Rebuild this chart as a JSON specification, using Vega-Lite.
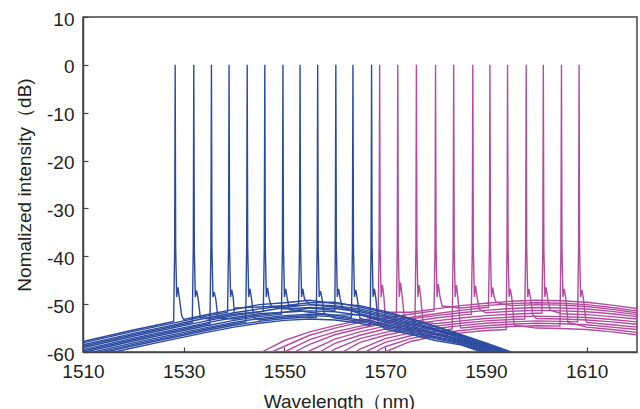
{
"$schema": "https://vega.github.io/schema/vega-lite/v6.json",
"width": 554, "height": 335,
"autosize": {"type": "none"},
"padding": {"left": 83, "top": 17, "right": 3, "bottom": 57},
"background": "white",
"config": {"view": {"stroke": "#444", "strokeWidth": 1.5}, "font": "Liberation Sans"},
"datasets": {
"blue": [
{"s":"b0","x":1510,"y":-57.8},{"s":"b0","x":1515,"y":-56.6},{"s":"b0","x":1520,"y":-55.4},{"s":"b0","x":1525,"y":-54.3},{"s":"b0","x":1528.0,"y":-53.6},{"s":"b0","x":1528.2,"y":-38},{"s":"b0","x":1528.3,"y":0},{"s":"b0","x":1528.4,"y":-38},{"s":"b0","x":1528.6,"y":-48.5},{"s":"b0","x":1528.85,"y":-46.5},{"s":"b0","x":1529.15,"y":-48.8},{"s":"b0","x":1529.6,"y":-52.5},{"s":"b0","x":1530,"y":-53.2},{"s":"b0","x":1535,"y":-52.1},{"s":"b0","x":1540,"y":-51.1},{"s":"b0","x":1545,"y":-50.1},{"s":"b0","x":1550,"y":-49.7},{"s":"b0","x":1555,"y":-49.2},{"s":"b0","x":1560,"y":-49.9},{"s":"b0","x":1565,"y":-50.3},{"s":"b0","x":1570,"y":-51.5},{"s":"b0","x":1575,"y":-53.0},{"s":"b0","x":1580,"y":-54.6},{"s":"b0","x":1585,"y":-56.3},{"s":"b0","x":1590,"y":-58.1},{"s":"b0","x":1595,"y":-60.0},{"s":"b0","x":1600,"y":-62.0},
{"s":"b1","x":1510,"y":-58.1},{"s":"b1","x":1515,"y":-56.9},{"s":"b1","x":1520,"y":-55.7},{"s":"b1","x":1525,"y":-54.6},{"s":"b1","x":1530,"y":-53.5},{"s":"b1","x":1535,"y":-52.4},{"s":"b1","x":1538.7,"y":-51.7},{"s":"b1","x":1538.9,"y":-38},{"s":"b1","x":1539.0,"y":0},{"s":"b1","x":1539.1,"y":-38},{"s":"b1","x":1539.3,"y":-48.5},{"s":"b1","x":1539.55,"y":-47.0},{"s":"b1","x":1539.85,"y":-48.8},{"s":"b1","x":1540,"y":-51.4},{"s":"b1","x":1540.3,"y":-50.8},{"s":"b1","x":1545,"y":-50.6},{"s":"b1","x":1550,"y":-50.3},{"s":"b1","x":1555,"y":-49.7},{"s":"b1","x":1560,"y":-49.6},{"s":"b1","x":1565,"y":-50.6},{"s":"b1","x":1570,"y":-51.8},{"s":"b1","x":1575,"y":-53.3},{"s":"b1","x":1580,"y":-54.8},{"s":"b1","x":1585,"y":-56.5},{"s":"b1","x":1590,"y":-58.3},{"s":"b1","x":1595,"y":-60.2},{"s":"b1","x":1600,"y":-62.2},
{"s":"b2","x":1510,"y":-58.5},{"s":"b2","x":1515,"y":-57.3},{"s":"b2","x":1520,"y":-56.1},{"s":"b2","x":1525,"y":-55.0},{"s":"b2","x":1530,"y":-53.9},{"s":"b2","x":1535,"y":-52.8},{"s":"b2","x":1540,"y":-51.8},{"s":"b2","x":1545,"y":-51.0},{"s":"b2","x":1550,"y":-50.4},{"s":"b2","x":1552.8,"y":-50.2},{"s":"b2","x":1553.0,"y":-38},{"s":"b2","x":1553.1,"y":0},{"s":"b2","x":1553.2,"y":-38},{"s":"b2","x":1553.4,"y":-48.5},{"s":"b2","x":1553.65,"y":-46.8},{"s":"b2","x":1553.95,"y":-48.8},{"s":"b2","x":1554.4,"y":-49.4},{"s":"b2","x":1555,"y":-50.1},{"s":"b2","x":1560,"y":-50.3},{"s":"b2","x":1565,"y":-51.0},{"s":"b2","x":1570,"y":-52.2},{"s":"b2","x":1575,"y":-53.6},{"s":"b2","x":1580,"y":-55.2},{"s":"b2","x":1585,"y":-56.7},{"s":"b2","x":1590,"y":-58.5},{"s":"b2","x":1595,"y":-60.4},{"s":"b2","x":1600,"y":-62.4},
{"s":"b3","x":1510,"y":-58.8},{"s":"b3","x":1515,"y":-57.6},{"s":"b3","x":1520,"y":-56.4},{"s":"b3","x":1525,"y":-55.3},{"s":"b3","x":1530,"y":-54.2},{"s":"b3","x":1531.7,"y":-53.8},{"s":"b3","x":1531.9,"y":-38},{"s":"b3","x":1532.0,"y":0},{"s":"b3","x":1532.1,"y":-38},{"s":"b3","x":1532.3,"y":-48.5},{"s":"b3","x":1532.55,"y":-47.2},{"s":"b3","x":1532.85,"y":-48.8},{"s":"b3","x":1533.3,"y":-52.8},{"s":"b3","x":1535,"y":-53.1},{"s":"b3","x":1540,"y":-52.1},{"s":"b3","x":1545,"y":-51.6},{"s":"b3","x":1550,"y":-50.7},{"s":"b3","x":1555,"y":-50.1},{"s":"b3","x":1560,"y":-50.6},{"s":"b3","x":1565,"y":-51.3},{"s":"b3","x":1570,"y":-52.5},{"s":"b3","x":1575,"y":-53.9},{"s":"b3","x":1580,"y":-55.4},{"s":"b3","x":1585,"y":-56.9},{"s":"b3","x":1590,"y":-58.7},{"s":"b3","x":1595,"y":-60.6},{"s":"b3","x":1600,"y":-62.6},
{"s":"b4","x":1510,"y":-59.1},{"s":"b4","x":1515,"y":-57.9},{"s":"b4","x":1520,"y":-56.7},{"s":"b4","x":1525,"y":-55.6},{"s":"b4","x":1530,"y":-54.5},{"s":"b4","x":1535,"y":-53.4},{"s":"b4","x":1540,"y":-52.4},{"s":"b4","x":1545,"y":-51.6},{"s":"b4","x":1545.8,"y":-51.5},{"s":"b4","x":1546.0,"y":-38},{"s":"b4","x":1546.1,"y":0},{"s":"b4","x":1546.2,"y":-38},{"s":"b4","x":1546.4,"y":-48.5},{"s":"b4","x":1546.65,"y":-46.6},{"s":"b4","x":1546.95,"y":-48.8},{"s":"b4","x":1547.4,"y":-50.5},{"s":"b4","x":1550,"y":-51.0},{"s":"b4","x":1555,"y":-50.7},{"s":"b4","x":1560,"y":-50.9},{"s":"b4","x":1565,"y":-51.6},{"s":"b4","x":1570,"y":-52.8},{"s":"b4","x":1575,"y":-54.2},{"s":"b4","x":1580,"y":-55.6},{"s":"b4","x":1585,"y":-57.1},{"s":"b4","x":1590,"y":-58.9},{"s":"b4","x":1595,"y":-60.8},{"s":"b4","x":1600,"y":-62.8},
{"s":"b5","x":1510,"y":-59.5},{"s":"b5","x":1515,"y":-58.3},{"s":"b5","x":1520,"y":-57.1},{"s":"b5","x":1525,"y":-56.0},{"s":"b5","x":1530,"y":-54.9},{"s":"b5","x":1535,"y":-53.8},{"s":"b5","x":1540,"y":-52.8},{"s":"b5","x":1545,"y":-52.0},{"s":"b5","x":1550,"y":-51.7},{"s":"b5","x":1555,"y":-50.8},{"s":"b5","x":1560,"y":-51.3},{"s":"b5","x":1560.1,"y":-38},{"s":"b5","x":1560.2,"y":0},{"s":"b5","x":1560.3,"y":-38},{"s":"b5","x":1560.5,"y":-48.5},{"s":"b5","x":1560.75,"y":-46.8},{"s":"b5","x":1561.05,"y":-48.8},{"s":"b5","x":1561.5,"y":-50.7},{"s":"b5","x":1565,"y":-52.0},{"s":"b5","x":1570,"y":-53.2},{"s":"b5","x":1575,"y":-54.5},{"s":"b5","x":1580,"y":-56.0},{"s":"b5","x":1585,"y":-57.3},{"s":"b5","x":1590,"y":-59.1},{"s":"b5","x":1595,"y":-61.0},{"s":"b5","x":1600,"y":-63.0},
{"s":"b6","x":1510,"y":-59.8},{"s":"b6","x":1515,"y":-58.6},{"s":"b6","x":1520,"y":-57.4},{"s":"b6","x":1525,"y":-56.3},{"s":"b6","x":1530,"y":-55.2},{"s":"b6","x":1535,"y":-54.1},{"s":"b6","x":1535.2,"y":-54.1},{"s":"b6","x":1535.4,"y":-38},{"s":"b6","x":1535.5,"y":0},{"s":"b6","x":1535.6,"y":-38},{"s":"b6","x":1535.8,"y":-48.5},{"s":"b6","x":1536.05,"y":-47.5},{"s":"b6","x":1536.35,"y":-48.8},{"s":"b6","x":1536.8,"y":-52.9},{"s":"b6","x":1540,"y":-53.1},{"s":"b6","x":1545,"y":-52.3},{"s":"b6","x":1550,"y":-51.7},{"s":"b6","x":1555,"y":-51.4},{"s":"b6","x":1560,"y":-51.6},{"s":"b6","x":1565,"y":-52.3},{"s":"b6","x":1570,"y":-53.5},{"s":"b6","x":1575,"y":-54.8},{"s":"b6","x":1580,"y":-56.2},{"s":"b6","x":1585,"y":-57.5},{"s":"b6","x":1590,"y":-59.3},{"s":"b6","x":1595,"y":-61.2},{"s":"b6","x":1600,"y":-63.2},
{"s":"b7","x":1510,"y":-60.1},{"s":"b7","x":1515,"y":-58.9},{"s":"b7","x":1520,"y":-57.7},{"s":"b7","x":1525,"y":-56.6},{"s":"b7","x":1530,"y":-55.5},{"s":"b7","x":1535,"y":-54.4},{"s":"b7","x":1540,"y":-53.4},{"s":"b7","x":1545,"y":-52.6},{"s":"b7","x":1549.4,"y":-52.1},{"s":"b7","x":1549.6,"y":-38},{"s":"b7","x":1549.7,"y":0},{"s":"b7","x":1549.8,"y":-38},{"s":"b7","x":1550.0,"y":-48.5},{"s":"b7","x":1550.25,"y":-46.8},{"s":"b7","x":1550.55,"y":-48.8},{"s":"b7","x":1551.0,"y":-51.1},{"s":"b7","x":1555,"y":-51.7},{"s":"b7","x":1560,"y":-52.3},{"s":"b7","x":1565,"y":-52.2},{"s":"b7","x":1570,"y":-53.8},{"s":"b7","x":1575,"y":-55.1},{"s":"b7","x":1580,"y":-56.4},{"s":"b7","x":1585,"y":-57.7},{"s":"b7","x":1590,"y":-59.5},{"s":"b7","x":1595,"y":-61.4},{"s":"b7","x":1600,"y":-63.4},
{"s":"b8","x":1510,"y":-60.5},{"s":"b8","x":1515,"y":-59.3},{"s":"b8","x":1520,"y":-58.1},{"s":"b8","x":1525,"y":-57.0},{"s":"b8","x":1530,"y":-55.9},{"s":"b8","x":1535,"y":-54.8},{"s":"b8","x":1540,"y":-53.8},{"s":"b8","x":1545,"y":-53.0},{"s":"b8","x":1550,"y":-52.4},{"s":"b8","x":1555,"y":-52.1},{"s":"b8","x":1560,"y":-52.3},{"s":"b8","x":1563.3,"y":-52.8},{"s":"b8","x":1563.5,"y":-38},{"s":"b8","x":1563.6,"y":0},{"s":"b8","x":1563.7,"y":-38},{"s":"b8","x":1563.9,"y":-48.5},{"s":"b8","x":1564.15,"y":-47.0},{"s":"b8","x":1564.45,"y":-48.8},{"s":"b8","x":1564.9,"y":-52.2},{"s":"b8","x":1565,"y":-53.0},{"s":"b8","x":1570,"y":-54.2},{"s":"b8","x":1575,"y":-55.4},{"s":"b8","x":1580,"y":-56.8},{"s":"b8","x":1585,"y":-57.9},{"s":"b8","x":1590,"y":-59.7},{"s":"b8","x":1595,"y":-61.6},{"s":"b8","x":1600,"y":-63.6},
{"s":"b9","x":1510,"y":-60.8},{"s":"b9","x":1515,"y":-59.6},{"s":"b9","x":1520,"y":-58.4},{"s":"b9","x":1525,"y":-57.3},{"s":"b9","x":1530,"y":-56.2},{"s":"b9","x":1535,"y":-55.1},{"s":"b9","x":1540,"y":-54.1},{"s":"b9","x":1542.3,"y":-53.7},{"s":"b9","x":1542.5,"y":-38},{"s":"b9","x":1542.6,"y":0},{"s":"b9","x":1542.7,"y":-38},{"s":"b9","x":1542.9,"y":-48.5},{"s":"b9","x":1543.15,"y":-46.8},{"s":"b9","x":1543.45,"y":-48.8},{"s":"b9","x":1543.9,"y":-52.8},{"s":"b9","x":1545,"y":-53.3},{"s":"b9","x":1550,"y":-52.7},{"s":"b9","x":1555,"y":-52.4},{"s":"b9","x":1560,"y":-52.6},{"s":"b9","x":1565,"y":-53.3},{"s":"b9","x":1570,"y":-54.5},{"s":"b9","x":1575,"y":-55.7},{"s":"b9","x":1580,"y":-57.0},{"s":"b9","x":1585,"y":-58.1},{"s":"b9","x":1590,"y":-59.9},{"s":"b9","x":1595,"y":-61.8},{"s":"b9","x":1600,"y":-63.8},
{"s":"b10","x":1510,"y":-61.1},{"s":"b10","x":1515,"y":-59.9},{"s":"b10","x":1520,"y":-58.7},{"s":"b10","x":1525,"y":-57.6},{"s":"b10","x":1530,"y":-56.5},{"s":"b10","x":1535,"y":-55.4},{"s":"b10","x":1540,"y":-54.4},{"s":"b10","x":1545,"y":-53.6},{"s":"b10","x":1550,"y":-53.0},{"s":"b10","x":1555,"y":-52.7},{"s":"b10","x":1556.3,"y":-52.8},{"s":"b10","x":1556.5,"y":-38},{"s":"b10","x":1556.6,"y":0},{"s":"b10","x":1556.7,"y":-38},{"s":"b10","x":1556.9,"y":-48.5},{"s":"b10","x":1557.15,"y":-47.3},{"s":"b10","x":1557.45,"y":-48.8},{"s":"b10","x":1557.9,"y":-52.0},{"s":"b10","x":1560,"y":-52.9},{"s":"b10","x":1565,"y":-53.6},{"s":"b10","x":1570,"y":-54.8},{"s":"b10","x":1575,"y":-56.0},{"s":"b10","x":1580,"y":-57.2},{"s":"b10","x":1585,"y":-58.3},{"s":"b10","x":1590,"y":-60.1},{"s":"b10","x":1595,"y":-62.0},{"s":"b10","x":1600,"y":-64.0},
{"s":"b11","x":1510,"y":-61.5},{"s":"b11","x":1515,"y":-60.3},{"s":"b11","x":1520,"y":-59.1},{"s":"b11","x":1525,"y":-58.0},{"s":"b11","x":1530,"y":-56.9},{"s":"b11","x":1535,"y":-55.8},{"s":"b11","x":1540,"y":-54.8},{"s":"b11","x":1545,"y":-54.0},{"s":"b11","x":1550,"y":-53.4},{"s":"b11","x":1555,"y":-53.1},{"s":"b11","x":1560,"y":-53.3},{"s":"b11","x":1565,"y":-54.0},{"s":"b11","x":1567.0,"y":-54.5},{"s":"b11","x":1567.2,"y":-38},{"s":"b11","x":1567.3,"y":0},{"s":"b11","x":1567.4,"y":-38},{"s":"b11","x":1567.6,"y":-48.5},{"s":"b11","x":1567.85,"y":-46.8},{"s":"b11","x":1568.15,"y":-48.8},{"s":"b11","x":1568.6,"y":-54.0},{"s":"b11","x":1570,"y":-55.2},{"s":"b11","x":1575,"y":-56.3},{"s":"b11","x":1580,"y":-57.6},{"s":"b11","x":1585,"y":-58.5},{"s":"b11","x":1590,"y":-60.3},{"s":"b11","x":1595,"y":-62.2},{"s":"b11","x":1600,"y":-64.2}
],
"pink": [
{"s":"p1","x":1545.5,"y":-60},{"s":"p1","x":1550,"y":-57.6},{"s":"p1","x":1555,"y":-55.8},{"s":"p1","x":1560,"y":-54.5},{"s":"p1","x":1565,"y":-53.4},{"s":"p1","x":1568.6,"y":-52.8},{"s":"p1","x":1568.8,"y":-38},{"s":"p1","x":1568.9,"y":0},{"s":"p1","x":1569.0,"y":-38},{"s":"p1","x":1569.2,"y":-48.5},{"s":"p1","x":1569.45,"y":-46.0},{"s":"p1","x":1569.75,"y":-48.5},{"s":"p1","x":1570,"y":-52.5},{"s":"p1","x":1570.2,"y":-51.7},{"s":"p1","x":1575,"y":-51.7},{"s":"p1","x":1580,"y":-51.0},{"s":"p1","x":1585,"y":-50.3},{"s":"p1","x":1590,"y":-49.8},{"s":"p1","x":1595,"y":-49.4},{"s":"p1","x":1600,"y":-49.2},{"s":"p1","x":1605,"y":-49.3},{"s":"p1","x":1610,"y":-49.6},{"s":"p1","x":1615,"y":-50.2},{"s":"p1","x":1620,"y":-50.9},
{"s":"p2","x":1547.5,"y":-60},{"s":"p2","x":1550,"y":-58.8},{"s":"p2","x":1555,"y":-56.5},{"s":"p2","x":1560,"y":-55.0},{"s":"p2","x":1565,"y":-53.8},{"s":"p2","x":1570,"y":-52.9},{"s":"p2","x":1575,"y":-52.1},{"s":"p2","x":1579.7,"y":-51.4},{"s":"p2","x":1579.9,"y":-38},{"s":"p2","x":1580.0,"y":0},{"s":"p2","x":1580.1,"y":-38},{"s":"p2","x":1580.3,"y":-48.5},{"s":"p2","x":1580.55,"y":-45.8},{"s":"p2","x":1580.85,"y":-48.3},{"s":"p2","x":1581.3,"y":-50.4},{"s":"p2","x":1585,"y":-50.8},{"s":"p2","x":1590,"y":-50.3},{"s":"p2","x":1595,"y":-49.9},{"s":"p2","x":1600,"y":-49.7},{"s":"p2","x":1605,"y":-49.8},{"s":"p2","x":1610,"y":-50.1},{"s":"p2","x":1615,"y":-50.7},{"s":"p2","x":1620,"y":-51.4},
{"s":"p3","x":1550,"y":-60},{"s":"p3","x":1555,"y":-57.4},{"s":"p3","x":1560,"y":-55.8},{"s":"p3","x":1565,"y":-54.6},{"s":"p3","x":1570,"y":-53.6},{"s":"p3","x":1575,"y":-52.8},{"s":"p3","x":1580,"y":-52.0},{"s":"p3","x":1585,"y":-51.3},{"s":"p3","x":1590,"y":-50.7},{"s":"p3","x":1590.5,"y":-50.7},{"s":"p3","x":1590.7,"y":-38},{"s":"p3","x":1590.8,"y":0},{"s":"p3","x":1590.9,"y":-38},{"s":"p3","x":1591.1,"y":-48.5},{"s":"p3","x":1591.35,"y":-46.5},{"s":"p3","x":1591.65,"y":-48.6},{"s":"p3","x":1592.1,"y":-49.7},{"s":"p3","x":1595,"y":-50.3},{"s":"p3","x":1600,"y":-50.1},{"s":"p3","x":1605,"y":-50.2},{"s":"p3","x":1610,"y":-50.5},{"s":"p3","x":1615,"y":-51.1},{"s":"p3","x":1620,"y":-51.8},
{"s":"p4","x":1552,"y":-60},{"s":"p4","x":1555,"y":-58.4},{"s":"p4","x":1560,"y":-56.4},{"s":"p4","x":1565,"y":-55.1},{"s":"p4","x":1570,"y":-54.0},{"s":"p4","x":1572.2,"y":-53.6},{"s":"p4","x":1572.4,"y":-38},{"s":"p4","x":1572.5,"y":0},{"s":"p4","x":1572.6,"y":-38},{"s":"p4","x":1572.8,"y":-48.5},{"s":"p4","x":1573.05,"y":-45.5},{"s":"p4","x":1573.35,"y":-48.2},{"s":"p4","x":1573.8,"y":-52.6},{"s":"p4","x":1575,"y":-53.1},{"s":"p4","x":1580,"y":-52.4},{"s":"p4","x":1585,"y":-51.8},{"s":"p4","x":1590,"y":-51.3},{"s":"p4","x":1595,"y":-50.9},{"s":"p4","x":1600,"y":-50.7},{"s":"p4","x":1605,"y":-50.8},{"s":"p4","x":1610,"y":-51.0},{"s":"p4","x":1615,"y":-51.5},{"s":"p4","x":1620,"y":-52.2},
{"s":"p5","x":1554.5,"y":-60},{"s":"p5","x":1560,"y":-57.3},{"s":"p5","x":1565,"y":-55.8},{"s":"p5","x":1570,"y":-54.6},{"s":"p5","x":1575,"y":-53.7},{"s":"p5","x":1580,"y":-52.9},{"s":"p5","x":1585,"y":-52.3},{"s":"p5","x":1587.1,"y":-52.1},{"s":"p5","x":1587.3,"y":-38},{"s":"p5","x":1587.4,"y":0},{"s":"p5","x":1587.5,"y":-38},{"s":"p5","x":1587.7,"y":-48.5},{"s":"p5","x":1587.95,"y":-46.2},{"s":"p5","x":1588.25,"y":-48.6},{"s":"p5","x":1588.7,"y":-51.1},{"s":"p5","x":1590,"y":-51.8},{"s":"p5","x":1595,"y":-51.5},{"s":"p5","x":1600,"y":-51.3},{"s":"p5","x":1605,"y":-51.4},{"s":"p5","x":1610,"y":-51.6},{"s":"p5","x":1615,"y":-52.0},{"s":"p5","x":1620,"y":-52.6},
{"s":"p6","x":1557,"y":-60},{"s":"p6","x":1560,"y":-58.2},{"s":"p6","x":1565,"y":-56.5},{"s":"p6","x":1570,"y":-55.2},{"s":"p6","x":1575,"y":-54.3},{"s":"p6","x":1580,"y":-53.5},{"s":"p6","x":1585,"y":-52.9},{"s":"p6","x":1590,"y":-52.4},{"s":"p6","x":1595,"y":-52.1},{"s":"p6","x":1600,"y":-51.9},{"s":"p6","x":1601.1,"y":-51.9},{"s":"p6","x":1601.3,"y":-38},{"s":"p6","x":1601.4,"y":0},{"s":"p6","x":1601.5,"y":-38},{"s":"p6","x":1601.7,"y":-48.5},{"s":"p6","x":1601.95,"y":-46.5},{"s":"p6","x":1602.25,"y":-48.8},{"s":"p6","x":1602.7,"y":-51.2},{"s":"p6","x":1605,"y":-52.0},{"s":"p6","x":1610,"y":-52.2},{"s":"p6","x":1615,"y":-52.6},{"s":"p6","x":1620,"y":-53.1},
{"s":"p7","x":1559,"y":-60},{"s":"p7","x":1560,"y":-59.4},{"s":"p7","x":1565,"y":-57.2},{"s":"p7","x":1570,"y":-55.9},{"s":"p7","x":1575,"y":-54.9},{"s":"p7","x":1575.9,"y":-54.8},{"s":"p7","x":1576.1,"y":-38},{"s":"p7","x":1576.2,"y":0},{"s":"p7","x":1576.3,"y":-38},{"s":"p7","x":1576.5,"y":-48.5},{"s":"p7","x":1576.75,"y":-46.0},{"s":"p7","x":1577.05,"y":-48.5},{"s":"p7","x":1577.5,"y":-53.7},{"s":"p7","x":1580,"y":-54.1},{"s":"p7","x":1585,"y":-53.5},{"s":"p7","x":1590,"y":-53.0},{"s":"p7","x":1595,"y":-52.7},{"s":"p7","x":1600,"y":-52.5},{"s":"p7","x":1605,"y":-52.6},{"s":"p7","x":1610,"y":-52.8},{"s":"p7","x":1615,"y":-53.2},{"s":"p7","x":1620,"y":-53.7},
{"s":"p8","x":1561.5,"y":-60},{"s":"p8","x":1565,"y":-58.0},{"s":"p8","x":1570,"y":-56.5},{"s":"p8","x":1575,"y":-55.4},{"s":"p8","x":1580,"y":-54.6},{"s":"p8","x":1585,"y":-54.0},{"s":"p8","x":1590,"y":-53.5},{"s":"p8","x":1595,"y":-53.2},{"s":"p8","x":1597.7,"y":-53.1},{"s":"p8","x":1597.9,"y":-38},{"s":"p8","x":1598.0,"y":0},{"s":"p8","x":1598.1,"y":-38},{"s":"p8","x":1598.3,"y":-48.5},{"s":"p8","x":1598.55,"y":-46.8},{"s":"p8","x":1598.85,"y":-48.8},{"s":"p8","x":1599.3,"y":-52.2},{"s":"p8","x":1600,"y":-53.0},{"s":"p8","x":1605,"y":-53.1},{"s":"p8","x":1610,"y":-53.3},{"s":"p8","x":1615,"y":-53.7},{"s":"p8","x":1620,"y":-54.2},
{"s":"p9","x":1564,"y":-60},{"s":"p9","x":1565,"y":-59.4},{"s":"p9","x":1570,"y":-57.2},{"s":"p9","x":1575,"y":-56.0},{"s":"p9","x":1580,"y":-55.1},{"s":"p9","x":1585,"y":-54.5},{"s":"p9","x":1590,"y":-54.0},{"s":"p9","x":1595,"y":-53.7},{"s":"p9","x":1600,"y":-53.5},{"s":"p9","x":1605,"y":-53.6},{"s":"p9","x":1608.2,"y":-53.7},{"s":"p9","x":1608.4,"y":-38},{"s":"p9","x":1608.5,"y":0},{"s":"p9","x":1608.6,"y":-38},{"s":"p9","x":1608.8,"y":-48.5},{"s":"p9","x":1609.05,"y":-47.0},{"s":"p9","x":1609.35,"y":-48.8},{"s":"p9","x":1609.8,"y":-53.0},{"s":"p9","x":1610,"y":-53.8},{"s":"p9","x":1615,"y":-54.3},{"s":"p9","x":1620,"y":-54.8},
{"s":"p10","x":1566,"y":-60},{"s":"p10","x":1570,"y":-58.0},{"s":"p10","x":1575,"y":-56.6},{"s":"p10","x":1580,"y":-55.7},{"s":"p10","x":1583.3,"y":-55.2},{"s":"p10","x":1583.5,"y":-38},{"s":"p10","x":1583.6,"y":0},{"s":"p10","x":1583.7,"y":-38},{"s":"p10","x":1583.9,"y":-48.5},{"s":"p10","x":1584.15,"y":-46.0},{"s":"p10","x":1584.45,"y":-48.8},{"s":"p10","x":1584.9,"y":-54.2},{"s":"p10","x":1585,"y":-55.0},{"s":"p10","x":1590,"y":-54.5},{"s":"p10","x":1595,"y":-54.2},{"s":"p10","x":1600,"y":-54.0},{"s":"p10","x":1605,"y":-54.1},{"s":"p10","x":1610,"y":-54.3},{"s":"p10","x":1615,"y":-54.8},{"s":"p10","x":1620,"y":-55.3},
{"s":"p11","x":1568,"y":-60},{"s":"p11","x":1570,"y":-58.9},{"s":"p11","x":1575,"y":-57.2},{"s":"p11","x":1580,"y":-56.2},{"s":"p11","x":1585,"y":-55.5},{"s":"p11","x":1590,"y":-55.0},{"s":"p11","x":1595,"y":-54.7},{"s":"p11","x":1600,"y":-54.5},{"s":"p11","x":1604.7,"y":-54.6},{"s":"p11","x":1604.9,"y":-38},{"s":"p11","x":1605.0,"y":0},{"s":"p11","x":1605.1,"y":-38},{"s":"p11","x":1605.3,"y":-48.5},{"s":"p11","x":1605.55,"y":-46.8},{"s":"p11","x":1605.85,"y":-48.8},{"s":"p11","x":1606.3,"y":-53.8},{"s":"p11","x":1610,"y":-54.8},{"s":"p11","x":1615,"y":-55.3},{"s":"p11","x":1620,"y":-55.9},
{"s":"p12","x":1570,"y":-60},{"s":"p12","x":1575,"y":-57.8},{"s":"p12","x":1580,"y":-56.7},{"s":"p12","x":1585,"y":-56.0},{"s":"p12","x":1590,"y":-55.5},{"s":"p12","x":1594.0,"y":-55.3},{"s":"p12","x":1594.2,"y":-38},{"s":"p12","x":1594.3,"y":0},{"s":"p12","x":1594.4,"y":-38},{"s":"p12","x":1594.6,"y":-48.5},{"s":"p12","x":1594.85,"y":-46.8},{"s":"p12","x":1595.15,"y":-48.8},{"s":"p12","x":1595.6,"y":-54.4},{"s":"p12","x":1600,"y":-55.0},{"s":"p12","x":1605,"y":-55.1},{"s":"p12","x":1610,"y":-55.3},{"s":"p12","x":1615,"y":-55.8},{"s":"p12","x":1620,"y":-56.4}
]
},
"encoding": {
"x": {"field": "x", "type": "quantitative",
 "scale": {"domain": [1510, 1620], "nice": false, "zero": false},
 "axis": {"values": [1510, 1530, 1550, 1570, 1590, 1610], "title": "Wavelength（nm)", "grid": false,
  "labelExpr": "'' + datum.value",
  "tickSize": -5, "labelPadding": 15, "labelFontSize": 19, "labelColor": "#231f20", "labelFlush": false, "labelOverlap": false,
  "tickColor": "#444", "tickWidth": 1.2, "domainColor": "#444", "domainWidth": 1.5,
  "titleFontSize": 19, "titleFontWeight": "normal", "titleColor": "#231f20", "titleX": 256, "titleY": 55, "titleBaseline": "alphabetic"}},
"y": {"field": "y", "type": "quantitative",
 "scale": {"domain": [-60, 10], "nice": false, "zero": false},
 "axis": {"values": [-60, -50, -40, -30, -20, -10, 0, 10], "title": "Nomalized intensity（dB)", "grid": false,
  "labelExpr": "'' + datum.value",
  "tickSize": -5, "labelPadding": 14, "labelFontSize": 19, "labelColor": "#231f20", "labelOffset": 2, "labelOverlap": false,
  "tickColor": "#444", "tickWidth": 1.2, "domainColor": "#444", "domainWidth": 1.5,
  "titleFontSize": 19, "titleFontWeight": "normal", "titleColor": "#231f20", "titleX": -59, "titleBaseline": "middle"}},
"detail": {"field": "s", "type": "nominal"}
},
"layer": [
{"data": {"name": "pink"}, "mark": {"type": "line", "clip": true, "color": "#b44b9f", "strokeWidth": 1.4}},
{"data": {"name": "blue"}, "mark": {"type": "line", "clip": true, "color": "#2c4ba0", "strokeWidth": 1.4}}
]
}
